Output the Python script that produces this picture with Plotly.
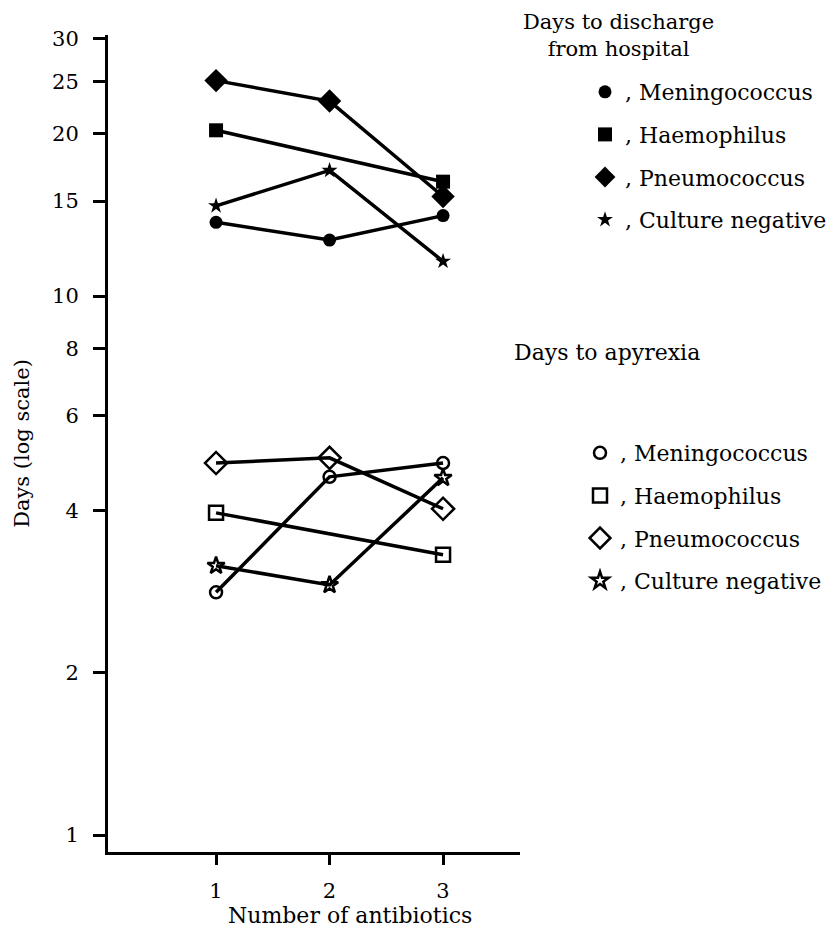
import plotly.graph_objects as go

antibiotics = [1, 2, 3]
organisms = ["Meningococcus", "Haemophilus", "Pneumococcus", "Culture negative"]

# Days to discharge from hospital
discharge_meningococcus = [13.7, 12.7, 14.1]
discharge_haemophilus = [20.3, None, 16.3]
discharge_pneumococcus = [25.1, 23.0, 15.3]
discharge_culture_negative = [14.7, 17.1, 11.6]

# Days to apyrexia
apyrexia_meningococcus = [2.82, 4.62, 4.90]
apyrexia_haemophilus = [3.96, None, 3.31]
apyrexia_pneumococcus = [4.90, 5.01, 4.03]
apyrexia_culture_negative = [3.16, 2.91, 4.60]

y_tickvals = [1, 2, 4, 6, 8, 10, 15, 20, 25, 30]
x_tickvals = [1, 2, 3]

FONT = "DejaVu Serif"
BLACK = "#000000"

discharge = [discharge_meningococcus, discharge_haemophilus,
             discharge_pneumococcus, discharge_culture_negative]
apyrexia = [apyrexia_meningococcus, apyrexia_haemophilus,
            apyrexia_pneumococcus, apyrexia_culture_negative]

filled_symbols = ["circle", "square", "diamond", "star"]
filled_sizes = [13, 14, 18, 12]
open_symbols = ["circle-open", "square-open", "diamond-open", "star-open"]
open_sizes = [12, 14, 17, 13]

fig = go.Figure()

for i, name in enumerate(organisms):
    fig.add_trace(go.Scatter(
        x=antibiotics, y=discharge[i], mode="lines", connectgaps=True,
        line=dict(color=BLACK, width=3.5), showlegend=False, hoverinfo="skip"))
    fig.add_trace(go.Scatter(
        x=antibiotics, y=discharge[i], mode="markers", name=", " + name,
        marker=dict(symbol=filled_symbols[i], size=filled_sizes[i], color=BLACK),
        legend="legend", legendgroup="d" + str(i)))

for i, name in enumerate(organisms):
    fig.add_trace(go.Scatter(
        x=antibiotics, y=apyrexia[i], mode="lines", connectgaps=True,
        line=dict(color=BLACK, width=3.5), showlegend=False, hoverinfo="skip"))
    fig.add_trace(go.Scatter(
        x=antibiotics, y=apyrexia[i], mode="markers", name=", " + name,
        marker=dict(symbol=open_symbols[i], size=open_sizes[i], color=BLACK,
                    line=dict(color=BLACK, width=2.5)),
        legend="legend2", legendgroup="a" + str(i)))

W, H = 829, 933
L, T = 108, 35
pw, ph = 412, 817
R, B = W - L - pw, H - T - ph


def px_x(px):
    return (px - L) / pw


def px_y(py):
    return 1 - (py - T) / ph


legend_common = dict(
    font=dict(family=FONT, size=22, color=BLACK),
    bgcolor="rgba(0,0,0,0)", borderwidth=0,
    xref="container", yref="container",
    xanchor="left", yanchor="top", tracegroupgap=11,
    itemclick=False, itemdoubleclick=False,
)

fig.update_layout(
    template="none",
    width=W, height=H,
    margin=dict(l=L, r=R, t=T, b=B, pad=0),
    paper_bgcolor="white", plot_bgcolor="white",
    font=dict(family=FONT, color=BLACK),
    xaxis=dict(
        automargin=False,
        range=[0.048, 3.678], tickvals=x_tickvals, ticktext=["1", "2", "3"],
        showgrid=False, zeroline=False, showline=True, linecolor=BLACK,
        linewidth=3, ticks="outside", ticklen=10, tickwidth=3, tickcolor=BLACK,
        ticklabelstandoff=8,
        tickfont=dict(family=FONT, size=21, color=BLACK),
    ),
    yaxis=dict(
        automargin=False,
        type="log", range=[-0.0315, 1.4843], tickvals=y_tickvals,
        ticktext=[str(v) for v in y_tickvals],
        showgrid=False, zeroline=False, showline=True, linecolor=BLACK,
        linewidth=3, ticks="outside", ticklen=12, tickwidth=3, tickcolor=BLACK,
        ticklabelstandoff=10,
        tickfont=dict(family=FONT, size=21, color=BLACK),
        title=dict(text="Days (log scale)", standoff=17,
                   font=dict(family=FONT, size=21, color=BLACK)),
    ),
    legend=dict(x=585 / W, y=1 - 71 / H, **legend_common),
    legend2=dict(x=580 / W, y=1 - 432 / H, **legend_common),
    annotations=[
        dict(text="Number of antibiotics", xref="paper", yref="paper",
             x=px_x(350), y=px_y(915), xanchor="center", yanchor="middle",
             showarrow=False, font=dict(family=FONT, size=22, color=BLACK)),
        dict(text="Days to discharge<br>from hospital", xref="paper", yref="paper",
             x=px_x(618), y=px_y(36), xanchor="center", yanchor="middle",
             showarrow=False, font=dict(family=FONT, size=21, color=BLACK)),
        dict(text="Days to apyrexia", xref="paper", yref="paper",
             x=px_x(607), y=px_y(353), xanchor="center", yanchor="middle",
             showarrow=False, font=dict(family=FONT, size=22, color=BLACK)),
    ],
)

fig.write_html("out.html", config={"displayModeBar": False},
               post_script="document.body.style.margin = '0px';")
